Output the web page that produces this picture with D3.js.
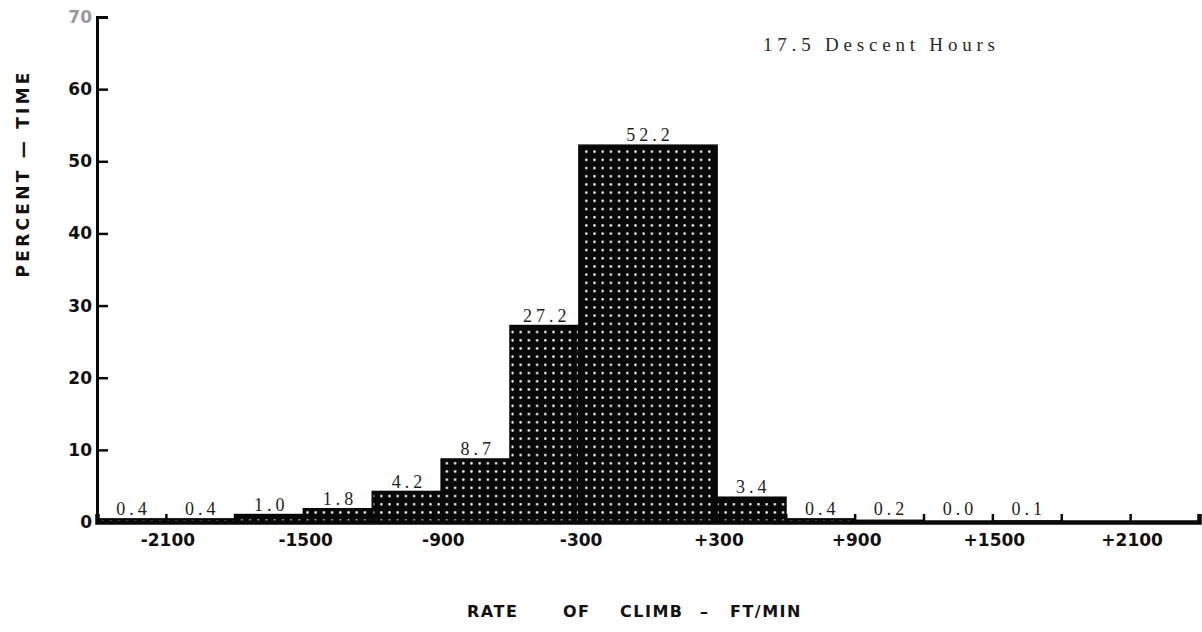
<!DOCTYPE html>
<html><head><meta charset="utf-8">
<script src="https://cdn.jsdelivr.net/npm/d3@7"></script>
<style>html,body{margin:0;padding:0;background:#fff;}svg{display:block;}</style>
</head><body>
<svg id="chart" width="1202" height="632"></svg>
<script>
// Data
const binStart = [-2400,-2100,-1800,-1500,-1200,-900,-600,-300,300,600,900,1200,1500];
const binEnd   = [-2100,-1800,-1500,-1200,-900,-600,-300,300,600,900,1200,1500,1800];
const percentTime = [0.4,0.4,1.0,1.8,4.2,8.7,27.2,52.2,3.4,0.4,0.2,0.0,0.1];
const barLabels = ["0.4","0.4","1.0","1.8","4.2","8.7","27.2","52.2","3.4","0.4","0.2","0.0","0.1"];
const xTickLabelValues = [-2100,-1500,-900,-300,300,900,1500,2100];
const xTickLabels = ["-2100","-1500","-900","-300","+300","+900","+1500","+2100"];
const xMinorTicks = [-2100,-1800,-1500,-1200,-900,-600,-300,300,600,900,1200,1500,1800,2100,2400];
const yTicks = [0,10,20,30,40,50,60,70];
const title = "17.5 Descent Hours";
const xTitleWords = ["RATE","OF","CLIMB","\u2013","FT/MIN"];
const yTitle = "PERCENT \u2014 TIME";

const svg = d3.select("#chart");
const x = d3.scaleLinear().domain([-2400, 2400]).range([97, 1199]);
const y = d3.scaleLinear().domain([0, 70]).range([522, 17]);

const defs = svg.append("defs");
const pat = defs.append("pattern").attr("id","dots").attr("patternUnits","userSpaceOnUse")
  .attr("width",8.2).attr("height",8.2);
pat.append("rect").attr("width",8.2).attr("height",8.2).attr("fill","#080808");
pat.append("circle").attr("cx",4.1).attr("cy",4.1).attr("r",1.3).attr("fill","#f2f2f2");

const bars = binStart.map((s,i)=>({s, e: binEnd[i], v: percentTime[i], label: barLabels[i]}));

// bars
svg.append("g").selectAll("rect").data(bars).join("rect")
  .attr("x", d=>x(d.s)).attr("width", d=>x(d.e)-x(d.s))
  .attr("y", d=>y(d.v)).attr("height", d=>y(0)-y(d.v))
  .attr("fill","url(#dots)").attr("stroke","#080808").attr("stroke-width",2);

// bar labels
svg.append("g").selectAll("text").data(bars).join("text")
  .attr("x", d=>(x(d.s)+x(d.e))/2 + 2)
  .attr("y", d=>Math.min(y(d.v)-4, 515))
  .attr("text-anchor","middle")
  .attr("font-family","'Liberation Serif','DejaVu Serif',serif")
  .attr("font-size",18).attr("letter-spacing",4)
  .attr("fill","#1e1e1e")
  .text(d=>d.label);

// y axis
const yAxis = d3.axisRight(y).tickValues(yTicks).tickSize(11).tickFormat("");
const gy = svg.append("g").attr("transform",`translate(${x(-2400)},0)`).call(yAxis);
gy.select(".domain").attr("stroke","#0a0a0a").attr("stroke-width",3);
gy.selectAll(".tick line").attr("stroke","#0a0a0a").attr("stroke-width",2.5);
svg.append("g").selectAll("text").data(yTicks).join("text")
  .attr("x", x(-2400)-5).attr("y", d=>y(d)+6)
  .attr("text-anchor","end")
  .attr("font-family","'DejaVu Sans',sans-serif").attr("font-weight","bold").attr("font-size",17)
  .attr("fill", d=> d===70 ? "#9a9a9a" : "#111")
  .text(d=>d);

// x axis baseline and minor ticks
const xAxis = d3.axisTop(x).tickValues(xMinorTicks).tickSize(8).tickFormat("");
const gx = svg.append("g").attr("transform",`translate(0,${y(0)})`).call(xAxis);
gx.select(".domain").attr("stroke","#0a0a0a").attr("stroke-width",4.5);
gx.selectAll(".tick line").attr("stroke","#0a0a0a").attr("stroke-width",2.5);

svg.append("g").selectAll("text").data(xTickLabelValues).join("text")
  .attr("x", d=>x(d)+2).attr("y", 546)
  .attr("text-anchor","middle")
  .attr("font-family","'DejaVu Sans',sans-serif").attr("font-weight","bold").attr("font-size",17)
  .attr("fill","#111")
  .text((d,i)=>xTickLabels[i]);

// x title (word positions)
const xWordPos = [467,563,620,700,730];
const xt = svg.append("text").attr("y",617)
  .attr("font-family","'DejaVu Sans',sans-serif").attr("font-weight","bold").attr("font-size",16)
  .attr("letter-spacing",1.5).attr("fill","#111");
xt.selectAll("tspan").data(xTitleWords).join("tspan")
  .attr("x",(d,i)=>xWordPos[i]).text(d=>d);

// y title
svg.append("text").attr("transform","translate(29,175) rotate(-90)").attr("text-anchor","middle")
  .attr("font-family","'DejaVu Sans',sans-serif").attr("font-weight","bold").attr("font-size",17)
  .attr("textLength",205).attr("lengthAdjust","spacing")
  .attr("fill","#111")
  .text(yTitle);

// chart title
svg.append("text").attr("x",763).attr("y",51)
  .attr("font-family","'Liberation Serif','DejaVu Serif',serif").attr("font-size",19)
  .attr("textLength",232).attr("lengthAdjust","spacing")
  .attr("fill","#2a2a2a")
  .text(title);
</script>
</body></html>
